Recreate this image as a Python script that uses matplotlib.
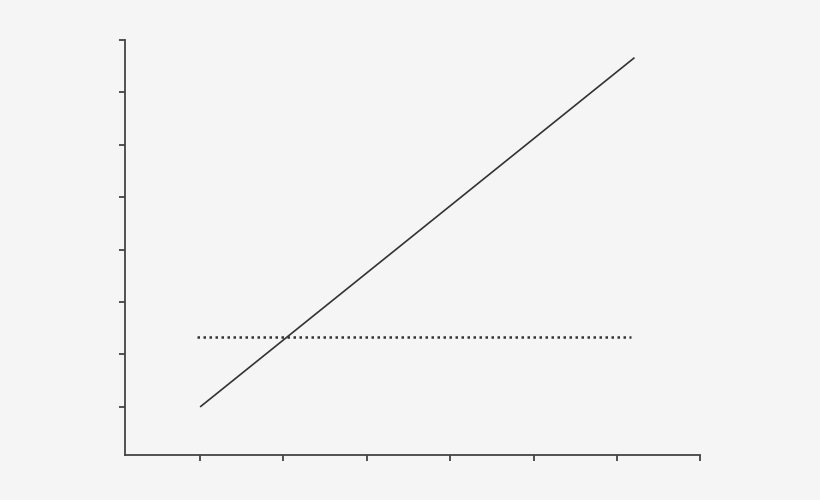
import matplotlib
matplotlib.use("Agg")
import matplotlib.pyplot as plt

# values (tick units)
line_x = [1.0, 6.21]
line_y = [1.0, 7.66]
level_x = [0.96, 6.17]
level_y = [2.33, 2.33]
x_ticks = [1, 2, 3, 4, 5, 6, 7]
y_ticks = [1, 2, 3, 4, 5, 6, 7, 8]

bg = "#f5f5f5"
ink = "#333333"

fig = plt.figure(figsize=(8.204, 5.002), dpi=100, facecolor=bg)
ax = fig.add_axes([125 / 820, 45 / 500, 575 / 820, 415 / 500])
ax.set_facecolor(bg)

ax.plot(line_x, line_y, color=ink, lw=1.2, solid_capstyle="butt")
ax.plot(level_x, level_y, color=ink, lw=1.8, linestyle=(0, (1, 1.4)),
        dash_capstyle="butt")

ax.set_xlim(0.1, 7)
ax.set_ylim(0.084, 8)
ax.set_xticks(x_ticks)
ax.set_yticks(y_ticks)
ax.set_xticklabels([])
ax.set_yticklabels([])

for side in ["top", "right"]:
    ax.spines[side].set_visible(False)
for side in ["left", "bottom"]:
    ax.spines[side].set_color("#444444")
    ax.spines[side].set_linewidth(1.3)
ax.tick_params(direction="out", length=4.5, width=1.3, color="#444444")

fig.savefig("out.png", dpi=100, facecolor=bg)
